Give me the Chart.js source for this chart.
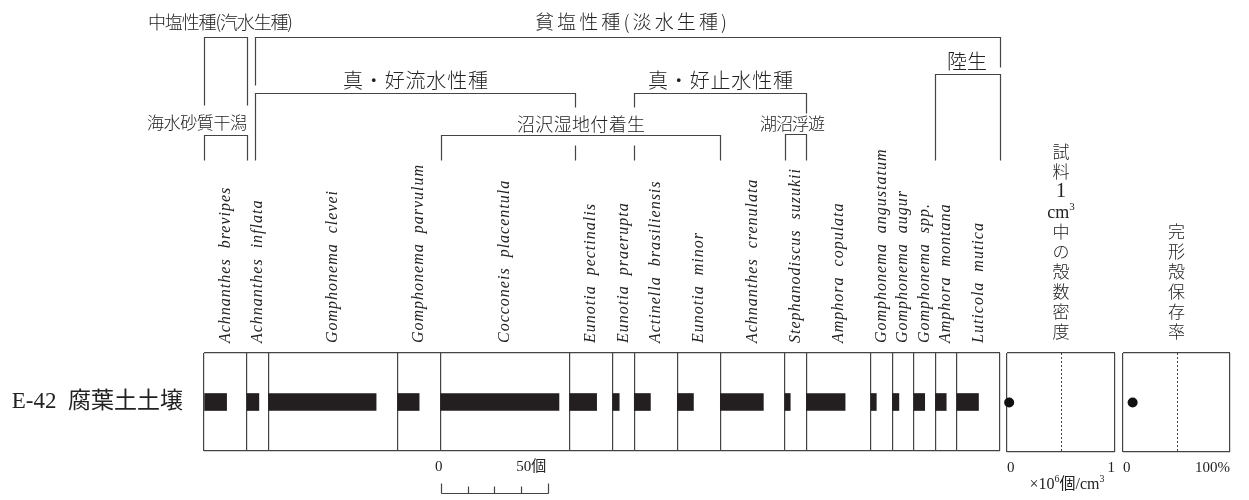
<!DOCTYPE html>
<html>
<head>
<meta charset="utf-8">
<script src="https://cdn.jsdelivr.net/npm/chart.js@4/dist/chart.umd.min.js"></script>
<style>
  html, body { margin: 0; padding: 0; background: #fff; }
  #wrap { position: relative; width: 1249px; height: 500px; }
  #wrap canvas { position: absolute; left: 0; top: 0; }
</style>
</head>
<body>
<div id="wrap">
  <canvas id="main" width="1249" height="500"></canvas>
  <canvas id="dens" width="1249" height="500"></canvas>
  <canvas id="pres" width="1249" height="500"></canvas>
</div>
<script>
// ---- data ----
const sampleLabel = 'E-42 腐葉土土壌';
const species = [
  'Achnanthes  brevipes', 'Achnanthes  inflata', 'Gomphonema  clevei', 'Gomphonema  parvulum',
  'Cocconeis  placentula', 'Eunotia  pectinalis', 'Eunotia  praerupta', 'Actinella  brasiliensis',
  'Eunotia  minor', 'Achnanthes  crenulata', 'Stephanodiscus  suzukii', 'Amphora  copulata',
  'Gomphonema  angustatum', 'Gomphonema  augur', 'Gomphonema  spp.', 'Amphora  montana',
  'Luticola  mutica'
];
const counts    = [10.5, 5.5, 50, 10, 55, 12.5, 3, 7.5, 7.5, 20, 2.5, 18, 2.5, 3, 5, 5, 10];
const columnMax = [20, 10, 60, 20, 60, 20, 10, 20, 20, 30, 10, 30, 10, 10, 10, 10, 20];
const densityValue = [0.02];      // ×10^6 個/cm3
const densityTicks = ['0', '1'];
const preservationValue = [9];    // %
const preservationTicks = ['0', '100%'];
const scaleBarTicks = [0, 12.5, 25, 37.5, 50];
const scaleBarLabels = ['0', '50個'];

// column left edges (cumulative widths)
const starts = [0];
columnMax.forEach((w, i) => starts.push(starts[i] + w));
const total = starts[starts.length - 1];

const LINE = '#444';
const INK = '#222';
const JP = '"Noto Sans CJK JP"';
const SERIF = '"Liberation Serif"';

function spaced(ctx, text, cx, cy, size, width) {
  ctx.font = `300 ${size}px ${JP}`;
  ctx.letterSpacing = '0px';
  const w = ctx.measureText(text).width;
  const n = [...text].length;
  ctx.letterSpacing = ((width - w) / (n - 1)) + 'px';
  ctx.textAlign = 'left';
  ctx.textBaseline = 'middle';
  ctx.fillText(text, cx - width / 2, cy);
  ctx.letterSpacing = '0px';
}

function poly(ctx, pts) {
  ctx.beginPath();
  pts.forEach(([x, y], i) => {
    const px = Math.round(x) + 0.5, py = Math.round(y) + 0.5;
    i ? ctx.lineTo(px, py) : ctx.moveTo(px, py);
  });
  ctx.stroke();
}

// headers, species names, scale bar
const mainDecor = {
  id: 'mainDecor',
  afterDraw(chart) {
    const { ctx, scales: { x } } = chart;
    const b = i => x.getPixelForValue(starts[i]);
    ctx.save();
    ctx.strokeStyle = LINE;
    ctx.lineWidth = 1.2;
    ctx.fillStyle = INK;

    // species names (vertical)
    ctx.font = `italic 16px ${SERIF}`;
    ctx.letterSpacing = '1px';
    ctx.textAlign = 'left';
    ctx.textBaseline = 'middle';
    species.forEach((name, i) => {
      const cx = x.getPixelForValue(starts[i] + columnMax[i] / 2);
      ctx.save();
      ctx.translate(cx, 343);
      ctx.rotate(-Math.PI / 2);
      ctx.fillText(name, 0, 0);
      ctx.restore();
    });
    ctx.letterSpacing = '0px';

    // ecological groups
    spaced(ctx, '中塩性種(汽水生種)', 220.5, 22, 18, 145);
    poly(ctx, [[b(0), 105], [b(0), 37], [b(1), 37], [b(1), 105]]);
    spaced(ctx, '海水砂質干潟', b(1) - 50, 123, 17, 100);
    poly(ctx, [[b(0), 160], [b(0), 135], [b(1), 135], [b(1), 160]]);

    spaced(ctx, '貧塩性種(淡水生種)', 631, 22, 19, 192);
    poly(ctx, [[b(1) + 8, 85], [b(1) + 8, 37], [b(17), 37], [b(17), 67]]);

    spaced(ctx, '真・好流水性種', 415.5, 80, 20, 145);
    poly(ctx, [[b(1) + 8, 160], [b(1) + 8, 92.5], [b(5) + 5, 92.5], [b(5) + 5, 107]]);
    poly(ctx, [[b(5) + 5, 145], [b(5) + 5, 160]]);

    spaced(ctx, '沼沢湿地付着生', 581, 124, 18, 128);
    poly(ctx, [[b(4), 160], [b(4), 135], [b(9), 135], [b(9), 160]]);

    spaced(ctx, '真・好止水性種', 720.5, 80, 20, 145);
    poly(ctx, [[b(7), 107], [b(7), 92.5], [b(11), 92.5], [b(11), 113]]);
    poly(ctx, [[b(7), 145], [b(7), 160]]);

    spaced(ctx, '湖沼浮遊', 792.5, 124, 17, 65);
    poly(ctx, [[b(10), 160], [b(10), 134], [b(11), 134], [b(11), 160]]);

    spaced(ctx, '陸生', 967, 61, 20, 40);
    poly(ctx, [[b(15), 160], [b(15), 74], [b(17), 74], [b(17), 160]]);

    // scale bar under Cocconeis column
    const base = starts[4];
    const p = v => x.getPixelForValue(base + v);
    const yb = 493;
    poly(ctx, [[p(0), yb], [p(50), yb]]);
    scaleBarTicks.forEach((v, i) => {
      const end = i === 0 || i === scaleBarTicks.length - 1;
      poly(ctx, [[p(v), yb], [p(v), yb - (end ? 10 : 7)]]);
    });
    ctx.font = `15px ${SERIF}, ${JP}`;
    ctx.textBaseline = 'middle';
    ctx.textAlign = 'center';
    ctx.fillText(scaleBarLabels[0], p(0) - 2, 467);
    ctx.textAlign = 'right';
    ctx.fillText(scaleBarLabels[1], p(50) - 2, 467);
    ctx.restore();
  }
};

new Chart(document.getElementById('main'), {
  type: 'bar',
  data: {
    labels: [sampleLabel],
    datasets: species.map((name, i) => ({
      label: name,
      data: [[starts[i], starts[i] + counts[i]]],
      backgroundColor: '#231f20',
      borderWidth: 0,
      barThickness: 17,
      grouped: false
    }))
  },
  options: {
    indexAxis: 'y',
    responsive: false,
    animation: false,
    layout: { padding: { left: 0, right: 249, top: 353, bottom: 49 } },
    plugins: { legend: { display: false }, tooltip: { enabled: false } },
    scales: {
      x: {
        type: 'linear', min: 0, max: total,
        afterBuildTicks: s => { s.ticks = starts.map(v => ({ value: v })); },
        afterFit: s => { s.height = 0; },
        grid: { color: LINE, lineWidth: 1.2, drawTicks: false },
        border: { display: false },
        ticks: { display: false }
      },
      y: {
        type: 'category',
        afterFit: s => { s.width = 204; },
        grid: { color: LINE, lineWidth: 1.2, drawTicks: false, offset: true },
        border: { display: false },
        ticks: {
          padding: 21, color: INK,
          font: { family: `${SERIF}, ${JP}`, size: 23 },
          callback(v) { return this.getLabelForValue(v).replace(' ', '  '); }
        }
      }
    }
  },
  plugins: [mainDecor]
});

// text with raised superscript pieces: parts = [[text, isSup], ...]
function supText(ctx, parts, cx, cy, size) {
  const supSize = Math.round(size * 0.62);
  let w = 0;
  parts.forEach(([t, sup]) => {
    ctx.font = `${sup ? supSize : size}px ${SERIF}, ${JP}`;
    w += ctx.measureText(t).width;
  });
  let xx = cx - w / 2;
  ctx.textAlign = 'left';
  parts.forEach(([t, sup]) => {
    ctx.font = `${sup ? supSize : size}px ${SERIF}, ${JP}`;
    ctx.fillText(t, xx, sup ? cy - size * 0.35 : cy);
    xx += ctx.measureText(t).width;
  });
  ctx.textAlign = 'center';
}

function dotPanel(id, values, max, tickLabels, left, right, title, unit) {
  const decor = {
    id: id + 'Decor',
    afterDraw(chart) {
      const { ctx, chartArea: a, scales: { x } } = chart;
      ctx.save();
      ctx.strokeStyle = LINE;
      ctx.lineWidth = 1;
      ctx.setLineDash([2, 2]);
      const mx = Math.round(x.getPixelForValue(max / 2)) + 0.5;
      ctx.beginPath(); ctx.moveTo(mx, a.top); ctx.lineTo(mx, a.bottom); ctx.stroke();
      ctx.setLineDash([]);
      // vertical title, bottom char at y=332
      ctx.fillStyle = INK;
      ctx.textAlign = 'center';
      ctx.textBaseline = 'middle';
      const cx = (a.left + a.right) / 2;
      title.forEach((ch, i) => {
        const cy = 332 - (title.length - 1 - i) * 20;
        if (ch === 'cm3') {
          supText(ctx, [['cm', false], ['3', true]], cx, cy + 1, 18);
        } else {
          ctx.font = /[0-9]/.test(ch) ? `20px ${SERIF}` : `300 17px ${JP}`;
          ctx.fillText(ch, cx, cy);
        }
      });
      if (unit) supText(ctx, unit, cx + 6, 485, 16);
      ctx.restore();
    }
  };
  return new Chart(document.getElementById(id), {
    type: 'scatter',
    data: {
      datasets: [{
        data: values.map(v => ({ x: v, y: 0 })),
        pointRadius: 5,
        pointBackgroundColor: '#111',
        pointBorderWidth: 0,
        clip: false
      }]
    },
    options: {
      responsive: false,
      animation: false,
      layout: { padding: { left: left, right: 1249 - right, top: 353, bottom: 18 } },
      plugins: { legend: { display: false }, tooltip: { enabled: false } },
      scales: {
        x: {
          type: 'linear', min: 0, max: max,
          afterBuildTicks: s => { s.ticks = [{ value: 0 }, { value: max }]; },
          afterFit: s => { s.height = 30; },
          grid: { color: LINE, lineWidth: 1.2, drawTicks: false },
          border: { display: false },
          ticks: {
            align: 'inner', padding: 7, color: INK,
            font: { family: SERIF, size: 15 },
            callback: (v, i) => tickLabels[i]
          }
        },
        y: {
          type: 'linear', min: -1, max: 1,
          afterBuildTicks: s => { s.ticks = [{ value: -1 }, { value: 1 }]; },
          afterFit: s => { s.width = 0; },
          grid: { color: LINE, lineWidth: 1.2, drawTicks: false },
          border: { display: false },
          ticks: { display: false }
        }
      }
    },
    plugins: [decor]
  });
}

dotPanel('dens', densityValue, 1, densityTicks, 1007, 1115,
  ['試', '料', '1', 'cm3', '中', 'の', '殻', '数', '密', '度'],
  [['×10', false], ['6', true], ['個/cm', false], ['3', true]]);
dotPanel('pres', preservationValue, 100, preservationTicks, 1123, 1230,
  ['完', '形', '殻', '保', '存', '率'], null);
</script>
</body>
</html>
